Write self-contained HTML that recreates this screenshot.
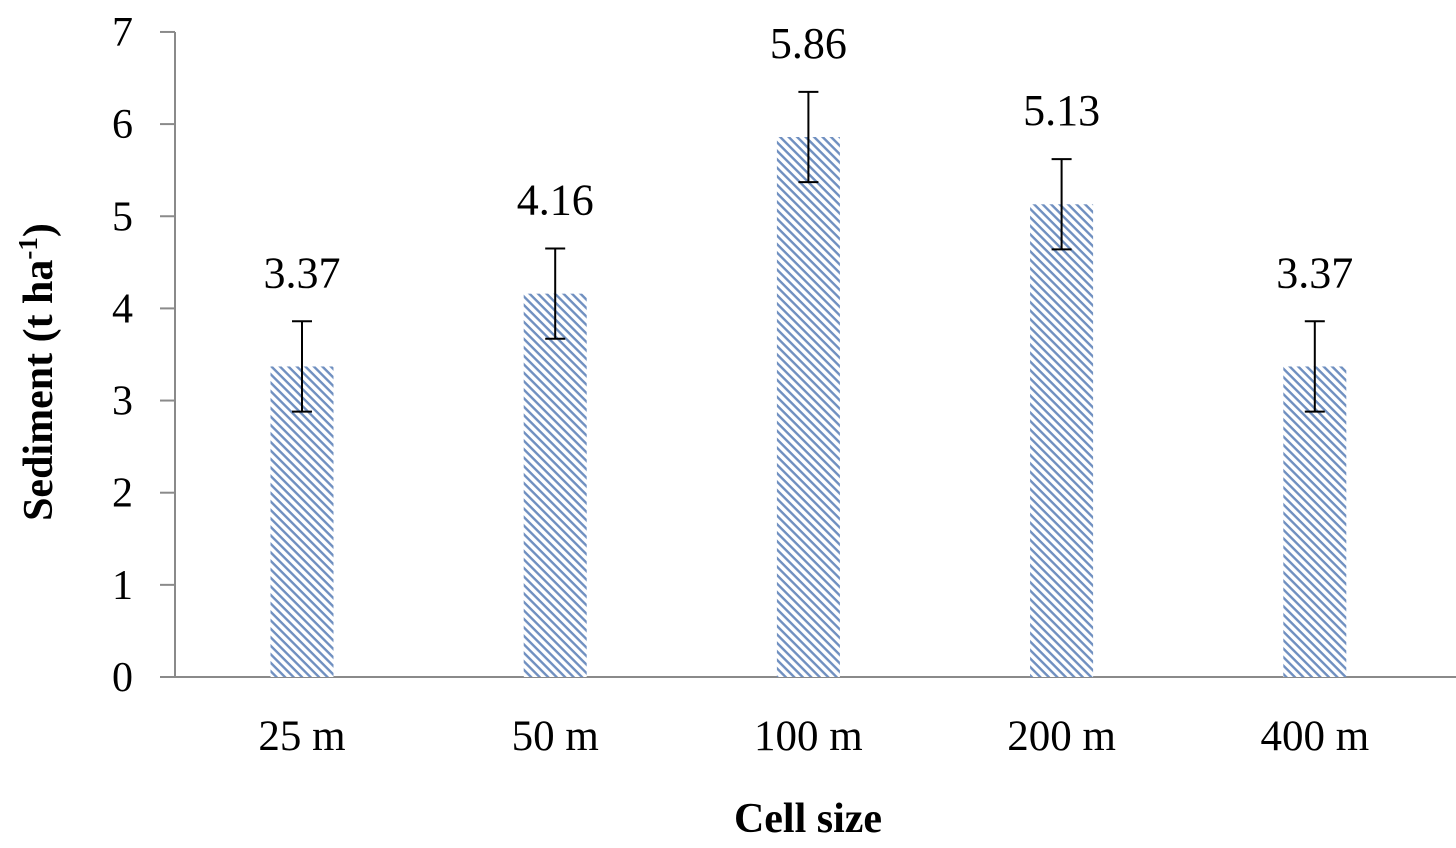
<!DOCTYPE html>
<html><head><meta charset="utf-8"><style>
body{margin:0;background:#fff}
svg{display:block;font-family:"Liberation Serif",serif}
</style></head><body>
<svg id="c" width="1456" height="848">
<defs>
<pattern id="hatch" patternUnits="userSpaceOnUse" width="6" height="6" patternTransform="rotate(45)">
<rect width="6" height="6" fill="#fff"/>
<rect x="0" y="0" width="6" height="2.4" fill="#6f8fc0"/>
</pattern>
</defs>
</svg>
<script>
const categories=["25 m","50 m","100 m","200 m","400 m"];
const values=[3.37,4.16,5.86,5.13,3.37];
const errors=[0.49,0.49,0.49,0.49,0.49];
const labels=["3.37","4.16","5.86","5.13","3.37"];
const yTicks=[0,1,2,3,4,5,6,7];
const NS="http://www.w3.org/2000/svg";
const svg=document.getElementById('c');
const y0=677,unit=92.15,axX=175,firstC=302,step=253.2,barW=63;
const Y=v=>y0-v*unit;
const X=i=>firstC+i*step;
function mk(t,a,txt){const e=document.createElementNS(NS,t);for(const k in a)e.setAttribute(k,a[k]);if(txt!==undefined)e.textContent=txt;svg.appendChild(e);return e;}
let e=mk('line',{x1:axX,y1:Y(7),x2:axX,y2:y0,stroke:'#8a8a8a','stroke-width':2});


e=mk('line',{x1:axX,y1:y0,x2:1456,y2:y0,stroke:'#8a8a8a','stroke-width':2});


yTicks.forEach(t=>{
 e=mk('line',{x1:160,y1:Y(t),x2:axX,y2:Y(t),stroke:'#8a8a8a','stroke-width':2});
 
 
 e=mk('text',{x:133,y:Y(t)+14,'text-anchor':'end','font-size':42},String(t));
 
 
});
categories.forEach((c,i)=>{
 const cx=X(i),v=values[i],er=errors[i];
 e=mk('rect',{x:cx-barW/2,y:Y(v),width:barW,height:y0-Y(v),fill:'url(#hatch)'});
 
 
 e=mk('path',{d:`M${cx} ${Y(v+er)}V${Y(v-er)}M${cx-10} ${Y(v+er)}H${cx+10}M${cx-10} ${Y(v-er)}H${cx+10}`,stroke:'#000','stroke-width':2,fill:'none'});
 
 
 e=mk('text',{x:cx,y:Y(v+er)-34,'text-anchor':'middle','font-size':44},labels[i]);
 
 
 e=mk('text',{x:cx,y:750,'text-anchor':'middle','font-size':43},c);
 
 
});
e=mk('text',{x:808,y:832,'text-anchor':'middle','font-size':42,'font-weight':'bold'},'Cell size');


e=mk('text',{transform:'translate(52,372) rotate(-90)','text-anchor':'middle','font-size':42,'font-weight':'bold'});


e.innerHTML='Sediment (t ha<tspan dy="-15" font-size="27">-1</tspan><tspan dy="15">)</tspan>';
</script>
</body></html>
